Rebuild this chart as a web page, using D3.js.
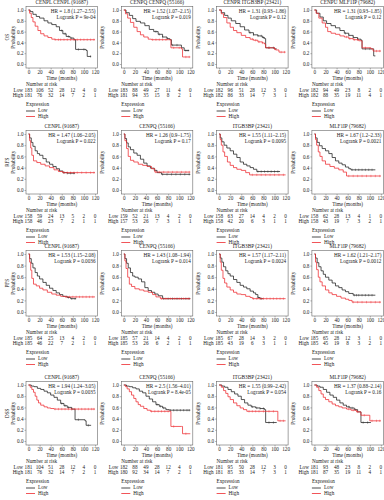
<!DOCTYPE html>
<html>
<head>
<meta charset="utf-8">
<script src="https://cdn.jsdelivr.net/npm/d3@7"></script>
<style>
body{margin:0;background:#fff;}
text{font-family:"Liberation Serif","Times New Roman",serif;fill:#222;}
</style>
</head>
<body>
<div id="chart"></div>
<script>
// survival endpoints, one row each
var endpoints = ["OS", "RFS", "PFS", "DSS"];

var titles = [
    ["CENPL CENPL (91687)", "CENPQ CENPQ (55166)", "CENPR ITGB3BP (23421)", "CENPU MLF1IP (79682)"],
    ["CENPL (91687)", "CENPQ (55166)", "ITGB3BP (23421)", "MLF1IP (79682)"],
    ["CENPL (91687)", "CENPQ (55166)", "ITGB3BP (23421)", "MLF1IP (79682)"],
    ["CENPL (91687)", "CENPQ (55166)", "ITGB3BP (23421)", "MLF1IP (79682)"]
];

var hrText = [
    "HR = 1.8 (1.27\u20132.55)", "HR = 1.52 (1.07\u20132.15)", "HR = 1.31 (0.93\u20131.86)", "HR = 1.31 (0.93\u20131.85)",
    "HR = 1.47 (1.06\u20132.05)", "HR = 1.26 (0.9\u20131.75)", "HR = 1.55 (1.11\u20132.15)", "HR = 1.67 (1.2\u20132.33)",
    "HR = 1.53 (1.15\u20132.08)", "HR = 1.43 (1.08\u20131.94)", "HR = 1.57 (1.17\u20132.11)", "HR = 1.62 (1.21\u20132.17)",
    "HR = 1.94 (1.24\u20133.05)", "HR = 2.5 (1.56\u20134.01)", "HR = 1.55 (0.99\u20132.42)", "HR = 1.37 (0.88\u20132.14)"
];
var pText = [
    "Logrank P = 9e-04", "Logrank P = 0.019", "Logrank P = 0.12", "Logrank P = 0.12",
    "Logrank P = 0.022", "Logrank P = 0.17", "Logrank P = 0.0095", "Logrank P = 0.0021",
    "Logrank P = 0.0036", "Logrank P = 0.014", "Logrank P = 0.0024", "Logrank P = 0.0012",
    "Logrank P = 0.0035", "Logrank P = 8.4e-05", "Logrank P = 0.054", "Logrank P = 0.16"
];

var timeTicks = [0, 20, 40, 60, 80, 100, 120];
var probTicks = [0, 0.2, 0.4, 0.6, 0.8, 1.0];

var riskLow = [
    [183,106,52,28,12,4,0], [183,88,49,27,11,4,0], [182,96,51,28,12,3,0], [182,94,49,23,8,2,0],
    [158,59,24,13,5,2,0], [159,52,21,13,4,2,0], [158,63,27,14,4,2,0], [158,62,28,13,4,1,0],
    [185,64,25,13,4,2,0], [185,57,21,14,4,2,0], [185,67,28,14,3,2,0], [185,65,28,12,3,1,0],
    [181,104,51,28,12,4,0], [182,88,49,28,12,4,0], [181,95,50,28,12,3,0], [181,93,48,23,8,2,0]
];
var riskHigh = [
    [181,76,32,14,7,2,1], [181,94,35,15,8,2,1], [182,86,33,14,7,3,1], [182,88,35,19,11,4,1],
    [158,46,23,7,2,1,1], [157,53,26,7,3,1,1], [158,42,20,6,3,1,1], [158,43,19,7,3,2,1],
    [185,46,22,7,2,1,1], [185,53,26,6,2,1,1], [185,43,19,6,3,1,1], [185,45,19,8,3,2,1],
    [181,76,32,14,7,2,1], [180,92,34,14,7,2,1], [181,85,33,14,7,3,1], [181,87,35,19,11,4,1]
];

// [months, survival] step points
var lowCurves = [
    [[0,1],[3,0.97],[8,0.92],[14,0.88],[20,0.85],[28,0.8],[35,0.76],[42,0.73],[50,0.69],[56,0.62],[62,0.56],[68,0.51],[75,0.48],[82,0.45],[85,0.27],[104,0.25],[106,0.14],[113,0.14]],
    [[0,1],[4,0.95],[10,0.9],[16,0.84],[22,0.79],[30,0.76],[38,0.71],[46,0.64],[54,0.6],[62,0.55],[70,0.5],[78,0.47],[83,0.45],[86,0.35],[100,0.35],[104,0.3],[109,0.25],[118,0.25]],
    [[0,1],[4,0.95],[10,0.9],[16,0.85],[22,0.8],[30,0.75],[38,0.69],[46,0.63],[54,0.58],[62,0.54],[70,0.52],[78,0.49],[82,0.47],[84,0.3],[100,0.28],[104,0.28]],
    [[0,1],[4,0.94],[10,0.87],[16,0.8],[22,0.75],[30,0.71],[38,0.67],[46,0.62],[54,0.57],[62,0.53],[70,0.49],[78,0.46],[84,0.44],[86,0.28],[104,0.28],[107,0.15],[110,0.15]],
    [[0,1],[2,0.93],[5,0.85],[8,0.78],[12,0.7],[16,0.65],[20,0.62],[26,0.56],[32,0.5],[38,0.46],[44,0.42],[50,0.38],[56,0.34],[62,0.31],[70,0.3],[84,0.3]],
    [[0,1],[2,0.92],[5,0.84],[8,0.77],[12,0.72],[18,0.66],[24,0.62],[30,0.55],[36,0.48],[42,0.43],[48,0.39],[55,0.35],[60,0.31],[68,0.28],[120,0.28]],
    [[0,1],[2,0.93],[5,0.86],[9,0.8],[14,0.75],[20,0.7],[26,0.64],[32,0.58],[38,0.5],[44,0.46],[50,0.43],[56,0.4],[62,0.37],[68,0.33],[110,0.33]],
    [[0,1],[2,0.93],[5,0.85],[9,0.79],[14,0.74],[20,0.7],[26,0.65],[32,0.58],[38,0.52],[44,0.48],[50,0.45],[56,0.41],[62,0.38],[66,0.36],[110,0.36]],
    [[0,1],[2,0.92],[5,0.84],[8,0.76],[12,0.68],[16,0.62],[20,0.57],[26,0.51],[32,0.46],[38,0.41],[44,0.37],[50,0.33],[56,0.3],[62,0.27],[70,0.25],[76,0.23],[86,0.23]],
    [[0,1],[2,0.92],[5,0.84],[8,0.76],[12,0.68],[16,0.62],[20,0.6],[26,0.57],[32,0.52],[38,0.42],[44,0.37],[50,0.34],[56,0.31],[62,0.28],[70,0.23],[120,0.23]],
    [[0,1],[2,0.93],[5,0.86],[8,0.78],[12,0.71],[16,0.66],[20,0.62],[26,0.56],[32,0.51],[38,0.46],[44,0.43],[50,0.4],[56,0.36],[62,0.33],[66,0.3],[70,0.25],[74,0.23],[80,0.23]],
    [[0,1],[2,0.93],[5,0.85],[8,0.78],[12,0.71],[16,0.65],[20,0.6],[26,0.55],[32,0.5],[38,0.45],[44,0.42],[50,0.38],[56,0.35],[62,0.32],[70,0.29],[110,0.29]],
    [[0,1],[5,0.98],[10,0.97],[16,0.94],[22,0.92],[28,0.89],[34,0.86],[40,0.82],[46,0.78],[52,0.73],[58,0.67],[64,0.63],[70,0.6],[78,0.57],[84,0.38],[102,0.36],[104,0.28],[113,0.28]],
    [[0,1],[5,0.98],[10,0.97],[16,0.95],[22,0.93],[28,0.89],[34,0.86],[40,0.8],[46,0.75],[52,0.7],[58,0.65],[64,0.62],[70,0.59],[76,0.56],[82,0.55],[120,0.55]],
    [[0,1],[5,0.98],[10,0.96],[16,0.92],[22,0.88],[28,0.84],[34,0.8],[40,0.74],[46,0.68],[52,0.64],[58,0.61],[66,0.59],[74,0.58],[82,0.56],[84,0.33],[104,0.33]],
    [[0,1],[5,0.98],[10,0.96],[16,0.92],[22,0.87],[28,0.82],[34,0.78],[40,0.73],[46,0.68],[52,0.64],[58,0.61],[64,0.59],[72,0.56],[78,0.52],[84,0.33],[102,0.33]]
];
var highCurves = [
    [[0,1],[2,0.94],[5,0.86],[8,0.78],[12,0.7],[17,0.62],[22,0.56],[28,0.52],[35,0.49],[42,0.46],[48,0.45],[120,0.45]],
    [[0,1],[3,0.93],[7,0.85],[12,0.77],[18,0.68],[24,0.6],[30,0.54],[36,0.5],[44,0.46],[50,0.45],[83,0.45],[85,0.3],[104,0.28],[106,0.13],[120,0.13]],
    [[0,1],[4,0.93],[8,0.86],[14,0.76],[20,0.68],[26,0.62],[32,0.58],[40,0.53],[48,0.49],[56,0.46],[62,0.44],[70,0.41],[78,0.39],[82,0.37],[84,0.3],[100,0.28],[102,0.26],[108,0.22],[120,0.22]],
    [[0,1],[3,0.94],[8,0.85],[14,0.76],[20,0.68],[24,0.6],[30,0.57],[38,0.55],[46,0.52],[54,0.5],[62,0.47],[70,0.45],[80,0.43],[86,0.3],[102,0.28],[106,0.24],[120,0.24]],
    [[0,1],[2,0.88],[4,0.75],[6,0.62],[9,0.52],[15,0.49],[22,0.46],[30,0.43],[38,0.4],[46,0.36],[54,0.33],[62,0.31],[120,0.31]],
    [[0,1],[2,0.88],[5,0.74],[8,0.6],[12,0.53],[18,0.5],[26,0.46],[34,0.44],[42,0.42],[50,0.38],[56,0.32],[120,0.32]],
    [[0,1],[2,0.9],[4,0.8],[7,0.68],[10,0.6],[15,0.5],[20,0.44],[26,0.4],[32,0.37],[40,0.35],[48,0.31],[55,0.27],[120,0.27]],
    [[0,1],[2,0.9],[4,0.8],[7,0.68],[10,0.6],[14,0.52],[20,0.46],[28,0.42],[36,0.39],[44,0.36],[52,0.32],[58,0.25],[120,0.25]],
    [[0,1],[2,0.86],[4,0.72],[6,0.58],[9,0.48],[14,0.45],[20,0.41],[26,0.38],[34,0.34],[42,0.31],[50,0.29],[58,0.27],[66,0.26],[120,0.26]],
    [[0,1],[2,0.88],[4,0.75],[7,0.6],[10,0.48],[14,0.44],[20,0.4],[28,0.38],[36,0.36],[44,0.34],[52,0.3],[58,0.26],[66,0.23],[120,0.23]],
    [[0,1],[2,0.86],[4,0.72],[7,0.58],[10,0.5],[14,0.43],[20,0.38],[26,0.34],[32,0.31],[40,0.3],[48,0.27],[56,0.25],[60,0.23],[120,0.23]],
    [[0,1],[2,0.86],[4,0.73],[7,0.6],[10,0.52],[14,0.45],[20,0.38],[26,0.33],[32,0.3],[40,0.27],[48,0.24],[56,0.22],[62,0.2],[68,0.17],[120,0.17]],
    [[0,1],[3,0.96],[6,0.92],[9,0.87],[12,0.8],[15,0.73],[18,0.68],[22,0.64],[28,0.61],[34,0.59],[40,0.58],[46,0.57],[120,0.57]],
    [[0,1],[3,0.97],[6,0.93],[10,0.88],[14,0.82],[18,0.76],[22,0.7],[26,0.65],[30,0.62],[36,0.58],[42,0.55],[48,0.53],[83,0.53],[85,0.26],[104,0.26],[106,0.13],[120,0.13]],
    [[0,1],[4,0.96],[8,0.9],[12,0.85],[16,0.79],[20,0.74],[26,0.68],[32,0.63],[38,0.59],[44,0.56],[50,0.53],[106,0.36],[120,0.36]],
    [[0,1],[4,0.96],[8,0.9],[12,0.84],[16,0.78],[20,0.74],[26,0.7],[32,0.66],[38,0.63],[44,0.61],[50,0.59],[58,0.57],[66,0.55],[76,0.52],[84,0.46],[100,0.36],[120,0.36]]
];

// censored times (small ticks)
var censLow = [
    [60,66,72,78,90,100,112], [58,64,70,78,88,96,112,116], [56,62,70,76,80,90,98], [56,62,70,78,92,100],
    [64,70,76,82], [70,78,86,94,102,110,118], [70,76,82,88,94,100,106], [68,74,80,86,92,98,104],
    [72,78,84], [72,80,88,96,104,112,118], [70,76], [72,76,80,86,92,98,104],
    [60,66,72,78,90,108], [60,66,72,84,90,96,102,108,114,118], [60,68,74,80,90,98], [62,68,74,88,96]
];
var censHigh = [
    [48,54,58,64,70,76,82,88,94,100,106,112,118], [52,58,64,70,76,90,100,112,118], [60,66,72,78,90,100,112,118], [58,64,72,78,92,112,118],
    [64,70,76,82,88,96,104,112,118], [58,64,72,80,88,96,104,112,118], [60,68,76,84,92,100,108,116], [62,70,78,86,94,102,110,118],
    [68,74,80,86,92,98,104,110,116], [68,76,84,92,100,108,116], [62,68,74,80,86,92,98,104,110,116], [70,78,86,94,102,110,118],
    [48,54,60,66,72,78,84,90,96,102,108,114,118], [50,56,62,68,74,80,90,112], [54,60,66,72,80,90,98,110,116], [62,70,78,90,104,112,118]
];

var W = 384, H = 500;
var colX = [0, 95.3, 190.6, 285.9];
var rowY1 = [10, 134, 254, 385];   // y of prob 1.0
var rowY0 = [64, 190, 312, 441];   // y of prob 0.0
var red = "#ee2a2f", blk = "#1e1e1e";
var fs = 5.2;

var svg = d3.select("#chart").append("svg")
    .attr("width", W)
    .attr("height", H);
svg.append("rect").attr("width", W).attr("height", H).attr("fill", "white");

function survAt(curve, t) {
    var s = 1;
    curve.forEach(function(d){ if (d[0] <= t) s = d[1]; });
    return s;
}

endpoints.forEach(function(ep, r){
  for (var c = 0; c < 4; c++) {
    var p = r * 4 + c;
    var left = colX[c] + 26, right = colX[c] + 97.5;
    var y1 = rowY1[r], y0 = rowY0[r];
    var x = d3.scaleLinear().domain([0, 120]).range([colX[c] + 28.5, colX[c] + 95]);
    var y = d3.scaleLinear().domain([0, 1]).range([y0, y1]);
    var g = svg.append("g");
    var boxTop = y1 - 3.5, boxBot = y0 + 4;

    g.append("rect")
        .attr("x", left).attr("y", boxTop)
        .attr("width", right - left).attr("height", boxBot - boxTop)
        .attr("fill", "none").attr("stroke", "#666").attr("stroke-width", 0.6);

    var xa = g.append("g").attr("transform", "translate(0," + boxBot + ")")
        .call(d3.axisBottom(x).tickValues(timeTicks).tickSize(1.5).tickPadding(1));
    var ya = g.append("g").attr("transform", "translate(" + left + ",0)")
        .call(d3.axisLeft(y).tickValues(probTicks).tickFormat(d3.format(".1f")).tickSize(1.5).tickPadding(1));
    [xa, ya].forEach(function(a){
        a.select(".domain").remove();
        a.attr("font-size", fs).attr("font-family", null);
        a.selectAll("line").attr("stroke", "#666").attr("stroke-width", 0.5);
        a.selectAll("text").attr("fill", "#222");
    });

    // title & stats
    g.append("text").attr("x", (left + right) / 2).attr("y", y1 - 6.8)
        .attr("text-anchor", "middle").attr("dominant-baseline", "middle")
        .style("font-size", "5.3px").text(titles[r][c]);
    g.append("text").attr("x", right - 2).attr("y", y1 + 2)
        .attr("text-anchor", "end").attr("dominant-baseline", "middle")
        .style("font-size", fs + "px").text(hrText[p]);
    g.append("text").attr("x", right - 2).attr("y", y1 + 7.8)
        .attr("text-anchor", "end").attr("dominant-baseline", "middle")
        .style("font-size", fs + "px").text(pText[p]);

    // y labels
    var ym = (boxTop + boxBot) / 2;
    if (c == 0) {
        g.append("text").attr("transform", "translate(" + (colX[c] + 8) + "," + ym + ")rotate(-90)")
            .attr("text-anchor", "middle").attr("dominant-baseline", "middle")
            .style("font-size", fs + "px").text(ep);
        g.append("text").attr("transform", "translate(" + (colX[c] + 14) + "," + ym + ")rotate(-90)")
            .attr("text-anchor", "middle").attr("dominant-baseline", "middle")
            .style("font-size", fs + "px").text("Probability");
    } else {
        g.append("text").attr("transform", "translate(" + (colX[c] + 8) + "," + ym + ")rotate(-90)")
            .attr("text-anchor", "middle").attr("dominant-baseline", "middle")
            .style("font-size", fs + "px").text("Probability");
    }

    // curves
    var line = d3.line().curve(d3.curveStepAfter)
        .x(function(d){ return x(d[0]); })
        .y(function(d){ return y(d[1]); });
    [[lowCurves[p], censLow[p], blk], [highCurves[p], censHigh[p], red]].forEach(function(s){
        g.append("path").datum(s[0]).attr("d", line)
            .attr("fill", "none").attr("stroke", s[2]).attr("stroke-width", 0.75);
        g.selectAll(null).data(s[1]).enter().append("line")
            .attr("x1", function(t){ return x(t); }).attr("x2", function(t){ return x(t); })
            .attr("y1", function(t){ return y(survAt(s[0], t)) - 1.2; })
            .attr("y2", function(t){ return y(survAt(s[0], t)) + 1.2; })
            .attr("stroke", s[2]).attr("stroke-width", 0.4);
    });

    // x label + risk table
    g.append("text").attr("x", x(60)).attr("y", y0 + 14.5)
        .attr("text-anchor", "middle").attr("dominant-baseline", "middle")
        .style("font-size", fs + "px").text("Time (months)");
    g.append("text").attr("x", left).attr("y", y0 + 21)
        .attr("dominant-baseline", "middle")
        .style("font-size", fs + "px").text("Number at risk");
    [["Low", riskLow[p], 26.5], ["High", riskHigh[p], 32]].forEach(function(rr){
        g.append("text").attr("x", x(0) - 5.5).attr("y", y0 + rr[2])
            .attr("text-anchor", "end").attr("dominant-baseline", "middle")
            .style("font-size", fs + "px").text(rr[0]);
        g.selectAll(null).data(rr[1]).enter().append("text")
            .attr("x", function(d, i){ return x(timeTicks[i]); })
            .attr("y", y0 + rr[2])
            .attr("text-anchor", "middle").attr("dominant-baseline", "middle")
            .style("font-size", fs + "px").text(function(d){ return d; });
    });

    // legend
    g.append("text").attr("x", left).attr("y", y0 + 40.5)
        .attr("dominant-baseline", "middle")
        .style("font-size", fs + "px").text("Expression");
    [["Low", blk, 47], ["High", red, 52.5]].forEach(function(l){
        g.append("line").attr("x1", left).attr("x2", left + 9)
            .attr("y1", y0 + l[2]).attr("y2", y0 + l[2])
            .attr("stroke", l[1]).attr("stroke-width", 0.8);
        g.append("text").attr("x", left + 12).attr("y", y0 + l[2])
            .attr("dominant-baseline", "middle")
            .style("font-size", fs + "px").text(l[0]);
    });
  }
});
</script>
</body>
</html>
